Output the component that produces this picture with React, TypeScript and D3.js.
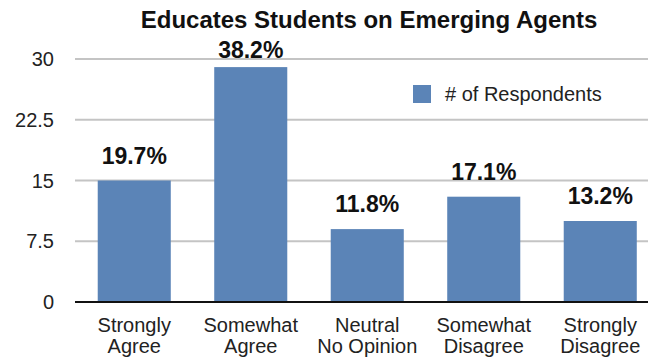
import React from "react";
import * as d3 from "d3";

const categories = [
  ["Strongly", "Agree"],
  ["Somewhat", "Agree"],
  ["Neutral", "No Opinion"],
  ["Somewhat", "Disagree"],
  ["Strongly", "Disagree"],
];
const respondents = [15, 29, 9, 13, 10];
const percentLabels = ["19.7%", "38.2%", "11.8%", "17.1%", "13.2%"];
const yTicks = [0, 7.5, 15, 22.5, 30];
const yTickLabels = ["0", "7.5", "15", "22.5", "30"];
const title = "Educates Students on Emerging Agents";
const seriesName = "# of Respondents";

const W = 648;
const H = 360;
const FONT = "'Liberation Sans', Arial, Helvetica, sans-serif";
const BAR = "#5b84b7";

export default function App() {
  const x = d3
    .scaleBand<number>()
    .domain(d3.range(categories.length))
    .range([76, 658.5])
    .paddingInner(0.373)
    .paddingOuter(0.1865);
  const y = d3.scaleLinear().domain([0, 30]).range([302, 59]);

  return (
    <div style={{ position: "absolute", left: 0, top: 0 }}>
      <svg width={W} height={H} style={{ display: "block", background: "#fff" }}>
        <text x={369} y={28} textAnchor="middle" fontFamily={FONT} fontWeight="bold" fontSize={24} fill="#111">
          {title}
        </text>
        {yTicks.map((t, i) =>
          t === 0 ? null : (
            <line key={"g" + i} x1={75} x2={W} y1={y(t)} y2={y(t)} stroke="#c4c4c4" strokeWidth={2} />
          )
        )}
        {yTicks.map((t, i) => (
          <text key={"t" + i} x={54} y={y(t) + 7} textAnchor="end" fontFamily={FONT} fontSize={20} fill="#222">
            {yTickLabels[i]}
          </text>
        ))}
        {respondents.map((v, i) => (
          <rect key={"b" + i} x={x(i)} y={y(v)} width={x.bandwidth()} height={y(0) - y(v)} fill={BAR} />
        ))}
        <line x1={75} x2={W} y1={y(0)} y2={y(0)} stroke="#111" strokeWidth={2} />
        {respondents.map((v, i) => (
          <text
            key={"p" + i}
            x={(x(i) as number) + x.bandwidth() / 2}
            y={Math.max(y(v) - 17, 58)}
            textAnchor="middle"
            fontFamily={FONT}
            fontWeight="bold"
            fontSize={23}
            fill="#111"
          >
            {percentLabels[i]}
          </text>
        ))}
        {categories.map((lines, i) => (
          <text
            key={"c" + i}
            x={(x(i) as number) + x.bandwidth() / 2}
            textAnchor="middle"
            fontFamily={FONT}
            fontSize={20}
            fill="#222"
          >
            {lines.map((l, j) => (
              <tspan key={j} x={(x(i) as number) + x.bandwidth() / 2} y={332 + j * 21}>
                {l}
              </tspan>
            ))}
          </text>
        ))}
        <rect x={413} y={85} width={18} height={18} fill={BAR} />
        <text x={445} y={101} fontFamily={FONT} fontSize={20} fill="#222">
          {seriesName}
        </text>
      </svg>
    </div>
  );
}
